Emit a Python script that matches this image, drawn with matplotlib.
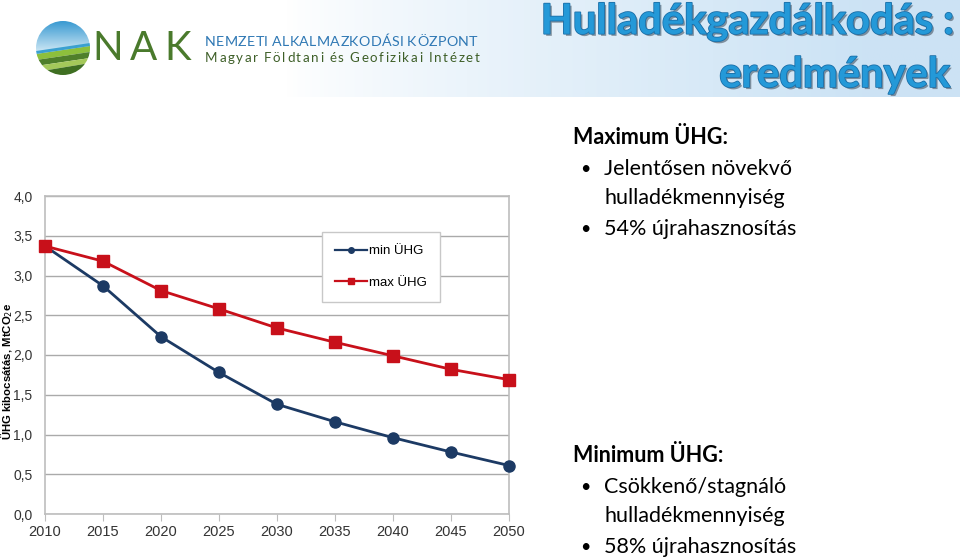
import numpy as np
import matplotlib
matplotlib.use("Agg")
import matplotlib.pyplot as plt
import matplotlib.patheffects as pe
from matplotlib.lines import Line2D
from matplotlib.patches import Circle, Polygon

# adatok (leolvasva a diagramról)
years = [2010, 2015, 2020, 2025, 2030, 2035, 2040, 2045, 2050]
min_uhg = [3.37, 2.87, 2.23, 1.78, 1.38, 1.16, 0.96, 0.78, 0.61]
max_uhg = [3.37, 3.18, 2.81, 2.58, 2.34, 2.16, 1.99, 1.82, 1.69]
yticks = [0.0, 0.5, 1.0, 1.5, 2.0, 2.5, 3.0, 3.5, 4.0]

max_lines = ["Jelentősen növekvő", "hulladékmennyiség", "54% újrahasznosítás"]
min_lines = ["Csökkenő/stagnáló", "hulladékmennyiség", "58% újrahasznosítás"]

W, H = 960, 558
fig = plt.figure(figsize=(W / 100, H / 100), dpi=100)
renderer = fig.canvas.get_renderer()

# háttér réteg pixel-koordinátákban
bg = fig.add_axes([0, 0, 1, 1], zorder=0)
bg.set_xlim(0, W)
bg.set_ylim(H, 0)
bg.axis("off")


def tracked(x, y, s, track, **kw):
    """Betűközzel ritkított szöveg, karakterenként."""
    for ch in s:
        t = bg.text(x, y, ch, ha="left", va="center", **kw)
        w = t.get_window_extent(renderer).width
        if ch == " ":
            w = kw.get("fontsize", 10) * 0.3
        x += w + track


# fejléc színátmenet
grad = np.linspace(0, 1, 400)
grad = np.clip((grad - 0.3) / 0.6, 0, 1) ** 0.8
sky = np.array([0.80, 0.89, 0.96])
img = np.ones((1, 400, 3)) * (1 - grad[None, :, None]) + sky * grad[None, :, None]
bg.imshow(img, extent=[0, W, 97, 0], aspect="auto", zorder=0)

# logó
cx, cy, r = 63, 48, 27
clip = Circle((cx, cy), r, transform=bg.transData)
top = np.linspace(0, 1, 100)[:, None, None]
cimg = np.array([0.22, 0.60, 0.82]) * (1 - top) + np.array([0.85, 0.93, 0.97]) * top
im = bg.imshow(np.repeat(cimg, 2, axis=1), extent=[cx - r, cx + r, cy + 6, cy - r],
               aspect="auto", zorder=1)
im.set_clip_path(clip)
stripes = [
    ([(cx - r, cy + 6), (cx + r, cy - 2), (cx + r, cy + 4), (cx - r, cy + 12)], "#8dbf3c"),
    ([(cx - r, cy + 12), (cx + r, cy + 4), (cx + r, cy + 10), (cx - r, cy + 18)], "#4f7f2a"),
    ([(cx - r, cy + 18), (cx + r, cy + 10), (cx + r, cy + 15), (cx - r, cy + 24)], "#a4c85a"),
    ([(cx - r, cy + 24), (cx + r, cy + 15), (cx + r, cy + r), (cx - r, cy + r)], "#3f6f22"),
]
for pts, col in stripes:
    p = Polygon(pts, closed=True, facecolor=col, edgecolor="none", zorder=2)
    bg.add_patch(p)
    p.set_clip_path(clip)
band = Polygon([(cx - r, cy + 3), (cx + r, cy - 5), (cx + r, cy - 2), (cx - r, cy + 6)],
               facecolor="#3aa0d0", edgecolor="none", zorder=2)
bg.add_patch(band)
band.set_clip_path(clip)

tracked(92, 49, "NAK", 7, fontsize=29, color="#4a7a2c", family="Lato")
tracked(205, 42, "NEMZETI ALKALMAZKODÁSI KÖZPONT", 0.35, fontsize=10.3,
        color="#2f78b4", family="Lato")
tracked(205, 58, "Magyar Földtani és Geofizikai Intézet", 1.6, fontsize=9.6,
        color="#3e5f28", family="Lato")

# cím árnyékkal
title_fx = [pe.withSimplePatchShadow(offset=(1.5, -1.5), shadow_rgbFace="#5a6a78", alpha=0.7),
            pe.Stroke(linewidth=1.2, foreground="#1b6fa8"), pe.Normal()]
bg.text(953, 22, "Hulladékgazdálkodás :", fontsize=30, fontweight="bold",
        color="#2499d8", family="Lato", ha="right", va="center", path_effects=title_fx)
bg.text(950, 75, "eredmények", fontsize=30, fontweight="bold",
        color="#2499d8", family="Lato", ha="right", va="center", path_effects=title_fx)


# jobb oldali szöveg
def block(y0, head, lines):
    bg.text(573, y0, head, fontsize=15.5, fontweight="bold", color="black",
            family="Lato", va="center", ha="left")
    ys = [y0 + 31, y0 + 60, y0 + 91]
    for i, (yy, t) in enumerate(zip(ys, lines)):
        if i != 1:
            bg.text(580, yy, "•", fontsize=13, color="black", family="Lato",
                    va="center", ha="left")
        bg.text(604, yy, t, fontsize=15.5, color="black", family="Lato",
                va="center", ha="left")


block(138, "Maximum ÜHG:", max_lines)
block(456, "Minimum ÜHG:", min_lines)

# diagram
ax = fig.add_axes([45 / W, 1 - 514 / H, 464 / W, 318 / H], zorder=2)
ax.set_facecolor("white")
ax.plot(years, min_uhg, color="#1c3a64", lw=2.0, marker="o", ms=8, zorder=3,
        clip_on=False)
ax.plot(years, max_uhg, color="#c8101a", lw=2.0, marker="s", ms=8.5, zorder=4,
        clip_on=False)
ax.set_xlim(2010, 2050)
ax.set_ylim(0, 4.0)
ax.set_xticks(years)
ax.set_yticks(yticks)
ax.set_yticklabels([f"{v:.1f}".replace(".", ",") for v in yticks])
ax.grid(axis="y", color="#aaaaaa", lw=1)
ax.set_axisbelow(True)
for s in ax.spines.values():
    s.set_color("#bdbdbd")
    s.set_linewidth(1.2)
ax.tick_params(axis="y", length=0, pad=9, labelsize=10, labelcolor="#333333")
ax.tick_params(axis="x", length=5, color="#bdbdbd", pad=3, labelsize=10.5,
               labelcolor="#333333")
for lab in ax.get_xticklabels() + ax.get_yticklabels():
    lab.set_family("Liberation Sans")
ax.set_ylabel("ÜHG kibocsátás, MtCO$_2$e", fontsize=8.2, fontweight="bold",
              family="Liberation Sans", va="center")
ax.yaxis.set_label_coords(-0.082, 0.45)

handles = [Line2D([], [], color="#1c3a64", lw=1.6, marker="o", ms=4),
           Line2D([], [], color="#c8101a", lw=1.6, marker="s", ms=4)]
leg = ax.legend(handles, ["min ÜHG", "max ÜHG"], loc="upper left",
                bbox_to_anchor=(0.597, 0.887), borderaxespad=0, fancybox=False,
                shadow=False, framealpha=1, edgecolor="#c8c8c8", handlelength=2.4,
                handletextpad=0.15, labelspacing=1.45, borderpad=1.0,
                prop={"family": "Liberation Sans", "size": 9.5})
leg.get_frame().set_linewidth(1.0)

fig.savefig("out.png", dpi=100)
